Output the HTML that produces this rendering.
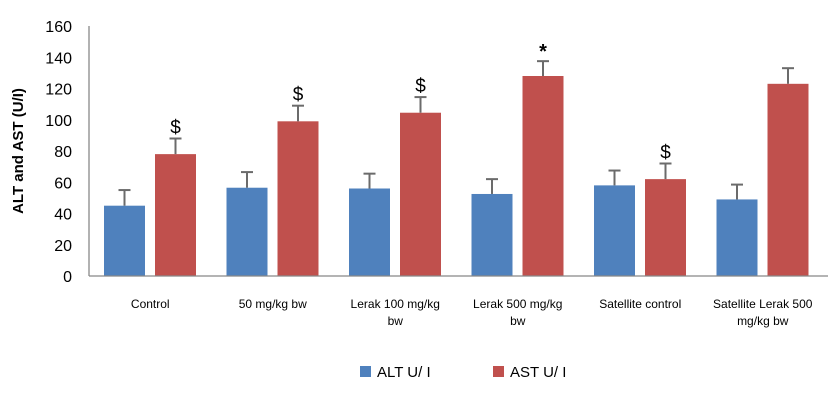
<!DOCTYPE html>
<html><head><meta charset="utf-8"><style>
body{margin:0;background:#fff;}
svg{display:block;font-family:"Liberation Sans",sans-serif;}
</style></head><body>
<svg id="chart" width="831" height="400" viewBox="0 0 831 400" xmlns="http://www.w3.org/2000/svg"></svg>
<script>
const categories = [["Control"],["50 mg/kg  bw"],["Lerak 100  mg/kg","bw"],["Lerak 500  mg/kg","bw"],["Satellite control"],["Satellite Lerak 500","mg/kg bw"]];
const altValues = [45, 56.5, 56, 52.5, 58, 49];
const altErrors = [10, 10, 9.5, 9.5, 9.5, 9.5];
const astValues = [78, 99, 104.5, 128, 62, 123];
const astErrors = [10, 10, 10, 9.5, 10, 10];
const astMarks = ["$", "$", "$", "*", "$", ""];
const yTicks = [0, 20, 40, 60, 80, 100, 120, 140, 160];

const svg = document.getElementById('chart');
const NS = "http://www.w3.org/2000/svg";
const x0 = 89, y0 = 276, yTop = 26, gw = 122.5;
const yMax = 160;
function yScale(v){ return y0 - v/yMax*(y0-yTop); }
function xGroup(i){ return x0 + gw*i; }
function mk(tag, attrs, text){
  const e = document.createElementNS(NS, tag);
  for (const k in attrs) e.setAttribute(k, attrs[k]);
  if (text !== undefined) e.textContent = text;
  svg.appendChild(e);
  return e;
}
yTicks.forEach(t => {
  const e = mk('text', {x: 72, y: yScale(t)+6, 'text-anchor':'end', 'font-size':16, fill:'#000'}, String(t));
  
  
});
const yt = mk('text', {x: 0, y: 0, transform:'translate(23,151) rotate(-90)', 'text-anchor':'middle', 'font-size':15, 'font-weight':'bold', fill:'#000'}, 'ALT and AST (U/I)');



function bar(i, v, err, off, color, name){
  const bx = xGroup(i) + off, top = yScale(v), w = 41;
  const r = mk('rect', {x: bx, y: top, width: w, height: y0-top, fill: color});
  
  
  const et = yScale(v+err), cx = bx + w/2;
  const l = mk('line', {x1: cx, y1: top, x2: cx, y2: et, stroke:'#6b6b6b', 'stroke-width':2});
  
  
  const c = mk('line', {x1: cx-6, y1: et, x2: cx+6, y2: et, stroke:'#6b6b6b', 'stroke-width':2});
  
  
  return {cx, et};
}
categories.forEach((cat, i) => {
  bar(i, altValues[i], altErrors[i], 15, '#4f81bd', 'bar-alt');
  const a = bar(i, astValues[i], astErrors[i], 66, '#c0504d', 'bar-ast');
  if (astMarks[i]) {
    const m = mk('text', {x: a.cx, y: a.et - 5 + (astMarks[i]==='*'?2:0), 'text-anchor':'middle', 'font-size': astMarks[i]==='*'?20:19, 'font-weight': astMarks[i]==='*'?'bold':'normal', fill:'#000'}, astMarks[i]);
    
    
  }
  cat.forEach((line, j) => {
    const t = mk('text', {x: xGroup(i)+gw/2, y: 308 + j*17, 'text-anchor':'middle', 'font-size':12, fill:'#000'}, line);
    
    
  });
});
const ax = mk('line', {x1: x0, y1: yTop, x2: x0, y2: y0, stroke:'#888', 'stroke-width':1.3});


const bx = mk('line', {x1: x0, y1: y0, x2: 828, y2: y0, stroke:'#888', 'stroke-width':1.3});



const l1 = mk('rect', {x: 360, y: 366, width: 11, height: 11, fill:'#4f81bd'});


const t1 = mk('text', {x: 377, y: 377, 'font-size':15, fill:'#000'}, 'ALT U/ I');


const l2 = mk('rect', {x: 493, y: 366, width: 11, height: 11, fill:'#c0504d'});


const t2 = mk('text', {x: 510, y: 377, 'font-size':15, fill:'#000'}, 'AST U/ I');


</script>
</body></html>
